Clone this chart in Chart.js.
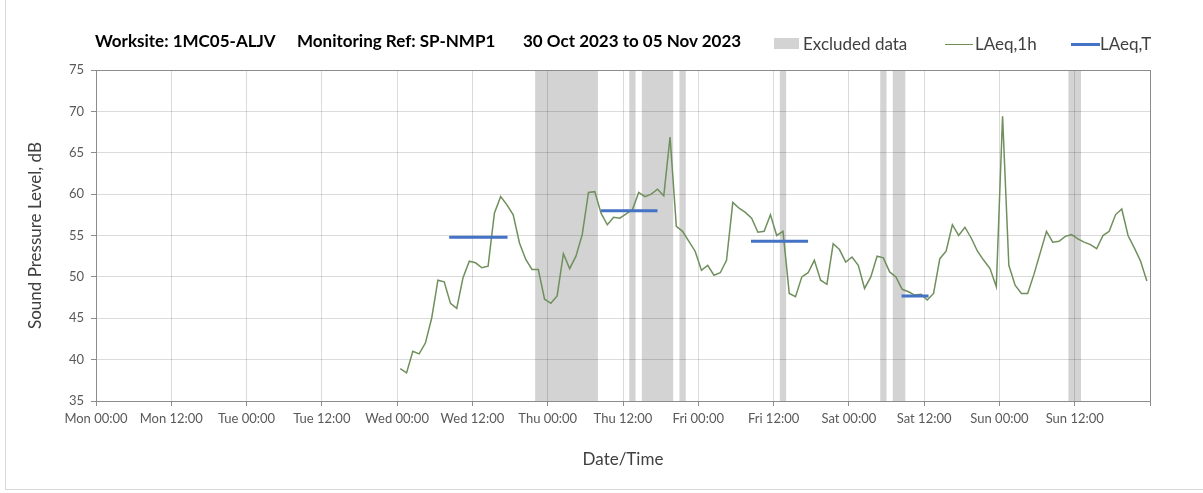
<!DOCTYPE html>
<html>
<head>
<meta charset="utf-8">
<script src="https://cdn.jsdelivr.net/npm/chart.js@4.4.1/dist/chart.umd.min.js"></script>
<style>
  body { margin: 0; background: #fff; }
  #wrap { position: relative; width: 1203px; height: 493px; overflow: hidden; font-family: Lato, "Open Sans", sans-serif; }
  #frame { position: absolute; left: 5px; top: -1px; width: 1200px; height: 491px; border: 1px solid #d9d9d9; box-sizing: border-box; }
  canvas { position: absolute; left: 0; top: 0; }
  .ttl { position: absolute; top: 30px; font-weight: bold; font-size: 17px; line-height: 22px; color: #000; white-space: nowrap; }
  .leg { position: absolute; top: 33px; font-size: 17px; line-height: 22px; color: #404040; white-space: nowrap; }
  .sw { position: absolute; }
</style>
</head>
<body>
<div id="wrap">
  <div id="frame"></div>
  <canvas id="noiseChart" width="1203" height="493"></canvas>
  <div class="ttl" style="left:95px">Worksite: 1MC05-ALJV</div>
  <div class="ttl" style="left:297px">Monitoring Ref: SP-NMP1</div>
  <div class="ttl" style="left:523px">30 Oct 2023 to 05 Nov 2023</div>
  <div class="sw" style="left:774px; top:38px; width:25px; height:11px; background:#d3d3d3"></div>
  <div class="leg" style="left:803px">Excluded data</div>
  <div class="sw" style="left:945px; top:44px; width:28px; height:1px; background:#6f8f5c"></div>
  <div class="leg" style="left:975px">LAeq,1h</div>
  <div class="sw" style="left:1071px; top:43px; width:29px; height:3px; background:#4472c4"></div>
  <div class="leg" style="left:1100px">LAeq,T</div>
</div>
<script>
// hours are counted from Mon 30 Oct 00:00
const xTickLabels = ['Mon 00:00', 'Mon 12:00', 'Tue 00:00', 'Tue 12:00', 'Wed 00:00', 'Wed 12:00',
    'Thu 00:00', 'Thu 12:00', 'Fri 00:00', 'Fri 12:00', 'Sat 00:00', 'Sat 12:00', 'Sun 00:00', 'Sun 12:00'];

// hourly LAeq,1h values, first one centred on Wed 00:30
const firstHour = 48.5;
const laeq1h = [
    38.9, 38.4, 41.0, 40.7, 42.0, 45.0, 49.6, 49.4, 46.8, 46.2, 49.9, 51.9, 51.7, 51.1, 51.3, 57.7,
    59.7, 58.7, 57.5, 54.1, 52.1, 50.9, 50.9, 47.3, 46.8, 47.7, 52.8, 51.0, 52.5, 55.1, 60.2, 60.3,
    57.7, 56.3, 57.2, 57.1, 57.6, 58.1, 60.2, 59.7, 60.0, 60.6, 59.8, 66.9, 56.1, 55.5,
    54.3, 53.1, 50.8, 51.4, 50.2, 50.5, 52.0, 59.0, 58.3, 57.8, 57.1, 55.4, 55.5, 57.5, 55.0, 55.5,
    48.0, 47.6, 50.0, 50.5, 52.0, 49.6, 49.1, 54.0, 53.3, 51.8, 52.4, 51.4, 48.6, 50.0, 52.5, 52.3,
    50.6, 50.0, 48.5, 48.2, 47.8, 47.9, 47.2, 48.0, 52.2, 53.1, 56.3, 55.0,
    56.0, 54.7, 53.1, 52.0, 51.0, 48.8, 69.4, 51.4, 49.0, 48.0, 48.0, 50.3, 52.9, 55.5, 54.2, 54.3,
    54.9, 55.1, 54.6, 54.2, 53.9, 53.4, 55.0, 55.5, 57.5, 58.2, 55.0, 53.5, 51.9, 49.5
];

// LAeq,T periods (hours) and levels
const laeqTStart = [56.3, 80.5, 104.4, 128.4];
const laeqTEnd = [65.6, 89.5, 113.5, 132.7];
const laeqTValues = [54.8, 58.0, 54.3, 47.7];

// excluded data periods (hours)
const excludedStart = [70, 85, 87, 93, 109, 125, 127, 155];
const excludedEnd = [80, 86, 92, 94, 110, 126, 129, 157];

const lineData = laeq1h.map((v, i) => ({ x: firstHour + i, y: v }));
const periodData = [];
laeqTValues.forEach((v, i) => {
    periodData.push({ x: laeqTStart[i], y: v }, { x: laeqTEnd[i], y: v }, { x: laeqTEnd[i] + 0.01, y: null });
});

// grey bands behind the grid
const excludedBands = {
    id: 'excludedBands',
    beforeDraw(chart) {
        const { ctx, chartArea, scales: { x } } = chart;
        ctx.save();
        ctx.fillStyle = '#d3d3d3';
        excludedStart.forEach((s, i) => {
            const x0 = x.getPixelForValue(s);
            const x1 = x.getPixelForValue(excludedEnd[i]);
            ctx.fillRect(x0, chartArea.top, x1 - x0, chartArea.bottom - chartArea.top);
        });
        ctx.restore();
    },
    afterDraw(chart) {
        const { ctx, chartArea } = chart;
        ctx.save();
        ctx.strokeStyle = '#8c8c8c';
        ctx.lineWidth = 1;
        ctx.strokeRect(Math.round(chartArea.left) + 0.5, Math.round(chartArea.top) + 0.5,
            Math.round(chartArea.right - chartArea.left), Math.round(chartArea.bottom - chartArea.top));
        ctx.restore();
    }
};

const ctx = document.getElementById('noiseChart').getContext('2d');
new Chart(ctx, {
    type: 'line',
    data: {
        datasets: [
            {
                label: 'LAeq,T',
                data: periodData,
                borderColor: '#4472c4',
                borderWidth: 3,
                pointRadius: 0,
                spanGaps: false,
            },
            {
                label: 'LAeq,1h',
                data: lineData,
                borderColor: '#6f8f5c',
                borderWidth: 1.5,
                pointRadius: 0,
                tension: 0,
            },
        ],
    },
    options: {
        responsive: false,
        animation: false,
        devicePixelRatio: 1,
        layout: { padding: { top: 70, left: 0, right: 53, bottom: 0 } },
        plugins: {
            legend: { display: false },
            tooltip: { enabled: false },
        },
        scales: {
            x: {
                type: 'linear',
                min: 0,
                max: 168,
                afterFit: (scale) => { scale.height = 92; },
                ticks: {
                    stepSize: 12,
                    autoSkip: false,
                    maxRotation: 0,
                    padding: 5,
                    color: '#595959',
                    font: { family: 'Lato', size: 13 },
                    callback: (v) => xTickLabels[v / 12] || '',
                },
                grid: { color: 'rgba(0,0,0,0.14)', tickColor: '#8c8c8c', tickLength: 5 },
                border: { color: '#8c8c8c' },
                title: {
                    display: true,
                    text: 'Date/Time',
                    color: '#404040',
                    font: { family: 'Lato', size: 17 },
                    padding: { top: 4, bottom: 23 },
                },
            },
            y: {
                min: 35,
                max: 75,
                afterFit: (scale) => { scale.width = 96; },
                ticks: {
                    stepSize: 5,
                    padding: 7,
                    color: '#595959',
                    font: { family: 'Lato', size: 13 },
                },
                grid: { color: 'rgba(0,0,0,0.14)', tickColor: '#8c8c8c', tickLength: 5 },
                border: { color: '#8c8c8c' },
                title: {
                    display: true,
                    text: 'Sound Pressure Level, dB',
                    color: '#404040',
                    font: { family: 'Lato', size: 17 },
                    padding: { top: 25, bottom: 0 },
                },
            },
        },
    },
    plugins: [excludedBands],
});
</script>
</body>
</html>
